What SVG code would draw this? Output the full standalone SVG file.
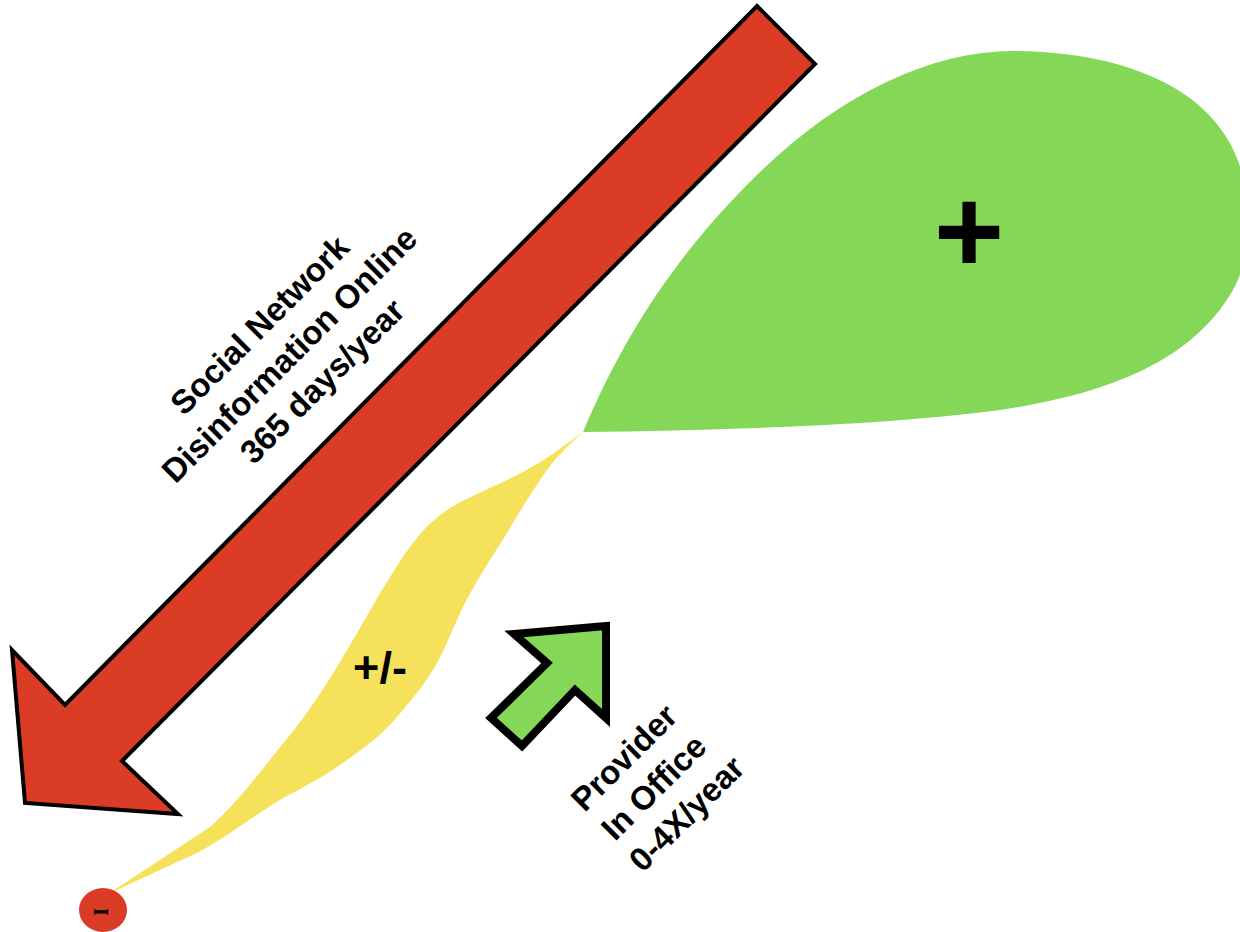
<svg xmlns="http://www.w3.org/2000/svg" width="1240" height="932" viewBox="0 0 1240 932">
<style>
.lbl{font-family:"Liberation Sans",Arial,sans-serif;font-weight:bold;fill:#000}
.ser{font-family:"Liberation Serif","Times New Roman",serif;font-weight:bold;fill:#000}
</style>
<rect width="1240" height="932" fill="#fff"/>
<g id="green-zone">
<path d="M583,432 C630,320 690,240 760,172 C840,95 930,50 1017,51 C1110,52 1190,80 1225,135 C1255,180 1255,250 1233,290 C1190,365 1100,395 1000,410 C880,426 720,430 583,432 Z" fill="#84D757"/>
<text class="lbl" x="969" y="273" font-size="120" text-anchor="middle">+</text>
</g>
<g id="yellow-zone">
<path d="M585,430 C562,448 540,464 513,477 C490,489 465,498 447,510 C430,522 420,533 410,547 C398,563 390,578 380,593 C365,620 350,645 337,667 C318,698 300,724 280,747 C258,775 235,805 210,827 L108,894 L197,853 C225,838 255,815 280,800 C305,786 327,775 347,760 C368,745 384,733 397,717 C414,697 428,680 437,663 C445,648 451,633 457,620 C470,590 490,560 507,533 C520,511 533,490 547,470 C558,455 572,442 585,430 Z" fill="#F6E15B"/>
<text class="lbl" x="380" y="683" font-size="45" text-anchor="middle">+/-</text>
</g>
<g id="minus-dot">
<ellipse cx="103" cy="910" rx="24" ry="22" fill="#DA3C26"/>
<text class="ser" x="0" y="7" font-size="20" text-anchor="middle" transform="translate(101,912) rotate(90)">I</text>
</g>
<g id="disinfo-arrow">
<polygon points="757,6 815,64 122,761 178,814 25,803 12,650 65,705" fill="#DA3C26" stroke="#000" stroke-width="4" stroke-linejoin="miter"/>
<text class="lbl" font-size="33" text-anchor="middle" transform="translate(292,351) rotate(-45)">
<tspan x="0" y="-30">Social Network</tspan>
<tspan x="0" y="12">Disinformation Online</tspan>
<tspan x="0" y="54">365 days/year</tspan>
</text>
</g>
<g id="provider-arrow">
<polygon points="606,626 514,634 547,663 491,718 522,746 575,690 606,718" fill="#84D757" stroke="#000" stroke-width="8" stroke-linejoin="miter"/>
<text class="lbl" font-size="33" text-anchor="middle" transform="translate(665,792) rotate(-45)">
<tspan x="0" y="-42">Provider</tspan>
<tspan x="0" y="0">In Office</tspan>
<tspan x="0" y="42">0-4X/year</tspan>
</text>
</g>
<g id="connectors"></g>
</svg>
